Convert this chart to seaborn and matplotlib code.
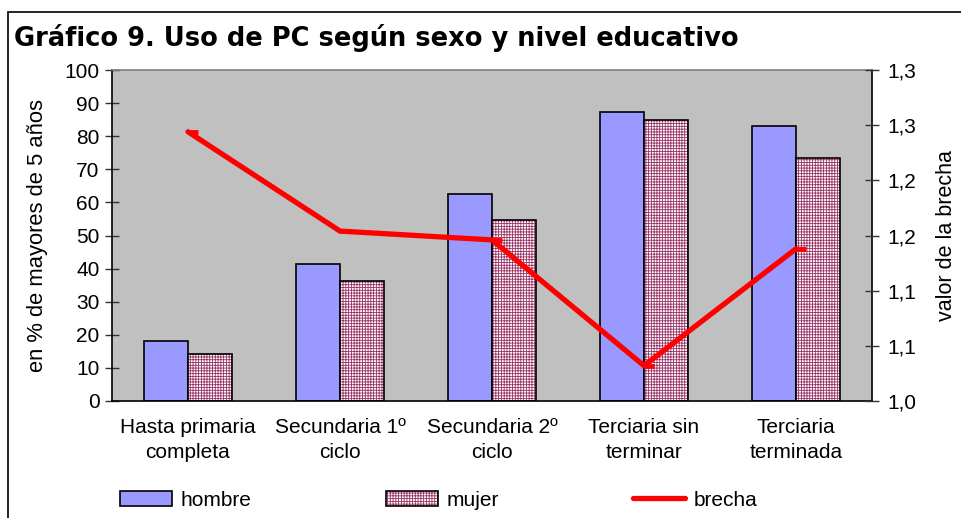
import matplotlib
matplotlib.use("Agg")
import matplotlib.pyplot as plt
import matplotlib.patches as mpatches
import matplotlib.lines as mlines
from matplotlib.path import Path
import seaborn as sns
import pandas as pd

categories = ["Hasta primaria\ncompleta", "Secundaria 1º\nciclo", "Secundaria 2º\nciclo",
              "Terciaria sin\nterminar", "Terciaria\nterminada"]
hombre = [18.0, 41.5, 62.5, 87.3, 83.2]
mujer = [14.3, 36.2, 54.8, 85.0, 73.5]
brecha = [1.244, 1.154, 1.146, 1.032, 1.138]
left_ticks = [0, 10, 20, 30, 40, 50, 60, 70, 80, 90, 100]
right_ticks = [1.00, 1.05, 1.10, 1.15, 1.20, 1.25, 1.30]
right_tick_labels = ["1,0", "1,1", "1,1", "1,2", "1,2", "1,3", "1,3"]
series_names = ["hombre", "mujer", "brecha"]

sns.set_style("white")
plt.rcParams["font.family"] = ["Liberation Sans", "DejaVu Sans"]
plt.rcParams["hatch.linewidth"] = 0.6
for k in ["text.color", "axes.labelcolor", "xtick.color", "ytick.color"]:
    plt.rcParams[k] = "black"

FS = 15
blue = "#9999FF"
maroon = "#993366"
bg = "#C0C0C0"

df = pd.DataFrame({
    "cat": categories * 2,
    "val": hombre + mujer,
    "sexo": [series_names[0]] * 5 + [series_names[1]] * 5,
})

fig = plt.figure(figsize=(9.62, 5.18), dpi=100)
ax = fig.add_axes([112/962, 1-401/518, 760/962, 331/518])
ax.set_facecolor(bg)

sns.barplot(data=df, x="cat", y="val", hue="sexo", order=categories,
            hue_order=series_names[:2], palette=[blue, "white"],
            width=0.58, gap=0, edgecolor="black", linewidth=1.2,
            saturation=1, legend=False, ax=ax)

n = len(categories)
for i, p in enumerate(ax.patches):
    if i >= n:
        p.set_hatch("++++++")
        if hasattr(p, "set_hatchcolor"):
            p.set_hatchcolor(maroon)
        else:
            p._hatch_color = matplotlib.colors.to_rgba(maroon)

ax.set_ylim(0, 100)
ax.set_xlim(-0.5, n - 0.5)
ax.set_yticks(left_ticks)
ax.set_xticks([i - 0.5 for i in range(n + 1)], minor=False)
ax.set_xticklabels([""] * (n + 1))
ax.set_xticks(range(n), minor=True)
ax.set_xticklabels(categories, minor=True, fontsize=FS, linespacing=1.45)
ax.tick_params(axis="x", which="minor", length=0, pad=12)
ax.tick_params(axis="x", which="major", direction="inout", length=12, width=1, color="#333333")
ax.tick_params(axis="y", direction="inout", length=10, width=1, labelsize=FS, pad=4, color="#333333")
ax.set_xlabel("")
ax.set_ylabel("en % de mayores de 5 años", fontsize=15.8, labelpad=12)
for s in ["left", "bottom", "right"]:
    ax.spines[s].set_color("black")
    ax.spines[s].set_linewidth(1.2)
ax.spines["top"].set_color("#808080")
ax.spines["top"].set_linewidth(1.2)

ax2 = ax.twinx()
dash = Path([(0, 0), (1, 0)], [Path.MOVETO, Path.LINETO])
bdf = pd.DataFrame({"cat": categories, "brecha": brecha})
sns.lineplot(data=bdf, x="cat", y="brecha", ax=ax2, color="#FF0000", linewidth=3.8,
             marker=dash, markersize=14, markeredgewidth=3.5, markeredgecolor="#FF0000",
             sort=False, legend=False)
ax2.set_ylim(1.0, 1.3)
ax2.set_yticks(right_ticks)
ax2.set_yticklabels(right_tick_labels)
ax2.set_xlim(-0.5, n - 0.5)
ax2.tick_params(axis="y", direction="inout", length=10, width=1, labelsize=FS, pad=6, color="#333333")
ax2.set_ylabel("valor de la brecha", fontsize=15.5, labelpad=14)
ax2.set_xlabel("")
for s in ax2.spines.values():
    s.set_visible(False)

fig.text(14/962, 1-38/518, "Gráfico 9. Uso de PC según sexo y nivel educativo",
         fontsize=18.5, fontweight="bold", family="DejaVu Sans", va="center", ha="left")

# chart frame
fig.patches.append(mpatches.Rectangle((8/962, -0.2), 1.2, 1 - 12/518 + 0.2,
                                      transform=fig.transFigure, fill=False,
                                      edgecolor="black", linewidth=1.2))

h1 = mpatches.Patch(facecolor=blue, edgecolor="black", linewidth=1.2, label=series_names[0])
h2 = mpatches.Patch(facecolor="white", edgecolor="black", linewidth=1.2, hatch="++++++",
                    label=series_names[1])
h3 = mlines.Line2D([], [], color="#FF0000", linewidth=3.8, label=series_names[2])
leg = fig.legend(handles=[h1, h2, h3], loc="center left", bbox_to_anchor=(120/962, 1-500/518),
                 ncol=3, frameon=False, fontsize=FS, handlelength=2.5, handletextpad=0.4,
                 columnspacing=6.45, borderpad=0, borderaxespad=0)
for lp in leg.get_patches():
    if lp.get_hatch():
        if hasattr(lp, "set_hatchcolor"):
            lp.set_hatchcolor(maroon)
        else:
            lp._hatch_color = matplotlib.colors.to_rgba(maroon)

fig.savefig("out.png", dpi=100)
